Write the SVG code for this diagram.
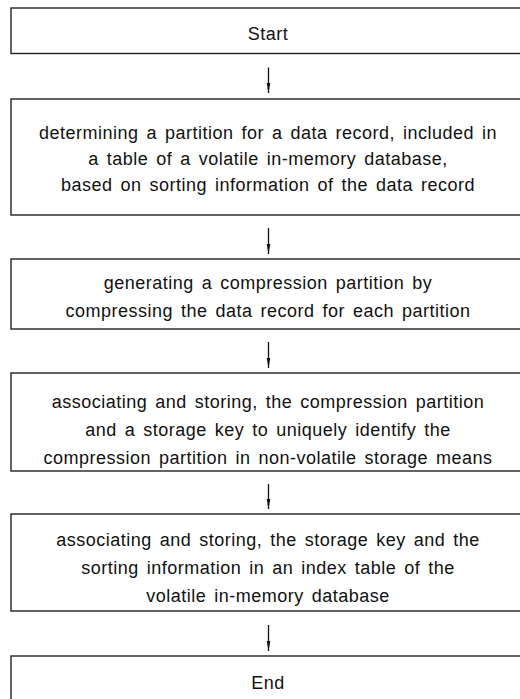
<svg xmlns="http://www.w3.org/2000/svg" width="520" height="699" viewBox="0 0 520 699">
<defs>
<marker id="ah" markerWidth="10" markerHeight="6" refX="10" refY="3" orient="auto" markerUnits="userSpaceOnUse" viewBox="0 0 10 6">
<path d="M0,1.2 L10,3 L0,4.8 Z" fill="#111"/>
</marker>
<style>
.box{fill:#fff;stroke:#222;stroke-width:1.4}
.t{font-family:"Liberation Sans",Arial,sans-serif;font-size:18px;letter-spacing:0.5px;word-spacing:2.5px;fill:#111;text-anchor:middle}
.c{stroke:#111;stroke-width:1.3;fill:none}
</style>
</defs>
<rect width="520" height="699" fill="#fff"/>
<g id="connectors">
<line class="c" x1="268.5" y1="67.5" x2="268.5" y2="93" marker-end="url(#ah)"/>
<line class="c" x1="268.5" y1="228" x2="268.5" y2="254" marker-end="url(#ah)"/>
<line class="c" x1="268.5" y1="342" x2="268.5" y2="368" marker-end="url(#ah)"/>
<line class="c" x1="268.5" y1="484" x2="268.5" y2="509" marker-end="url(#ah)"/>
<line class="c" x1="268.5" y1="625" x2="268.5" y2="651" marker-end="url(#ah)"/>
</g>
<g id="start">
<rect class="box" x="11" y="8" width="515" height="45.5"/>
<text class="t" x="268" y="40">Start</text>
</g>
<g id="step1">
<rect class="box" x="11" y="99" width="515" height="116"/>
<text class="t" x="268" y="139">determining a partition for a data record, included in</text>
<text class="t" x="268" y="165">a table of a volatile in-memory database,</text>
<text class="t" x="268" y="191">based on sorting information of the data record</text>
</g>
<g id="step2">
<rect class="box" x="11" y="259" width="515" height="70"/>
<text class="t" x="268" y="289">generating a compression partition by</text>
<text class="t" x="268" y="317">compressing the data record for each partition</text>
</g>
<g id="step3">
<rect class="box" x="11" y="373" width="515" height="98"/>
<text class="t" x="268" y="408">associating and storing, the compression partition</text>
<text class="t" x="268" y="436">and a storage key to uniquely identify the</text>
<text class="t" x="268" y="464">compression partition in non-volatile storage means</text>
</g>
<g id="step4">
<rect class="box" x="11" y="514" width="515" height="97"/>
<text class="t" x="268" y="546">associating and storing, the storage key and the</text>
<text class="t" x="268" y="574">sorting information in an index table of the</text>
<text class="t" x="268" y="602">volatile in-memory database</text>
</g>
<g id="end">
<rect class="box" x="11" y="656" width="515" height="60"/>
<text class="t" x="268" y="689">End</text>
</g>
</svg>
